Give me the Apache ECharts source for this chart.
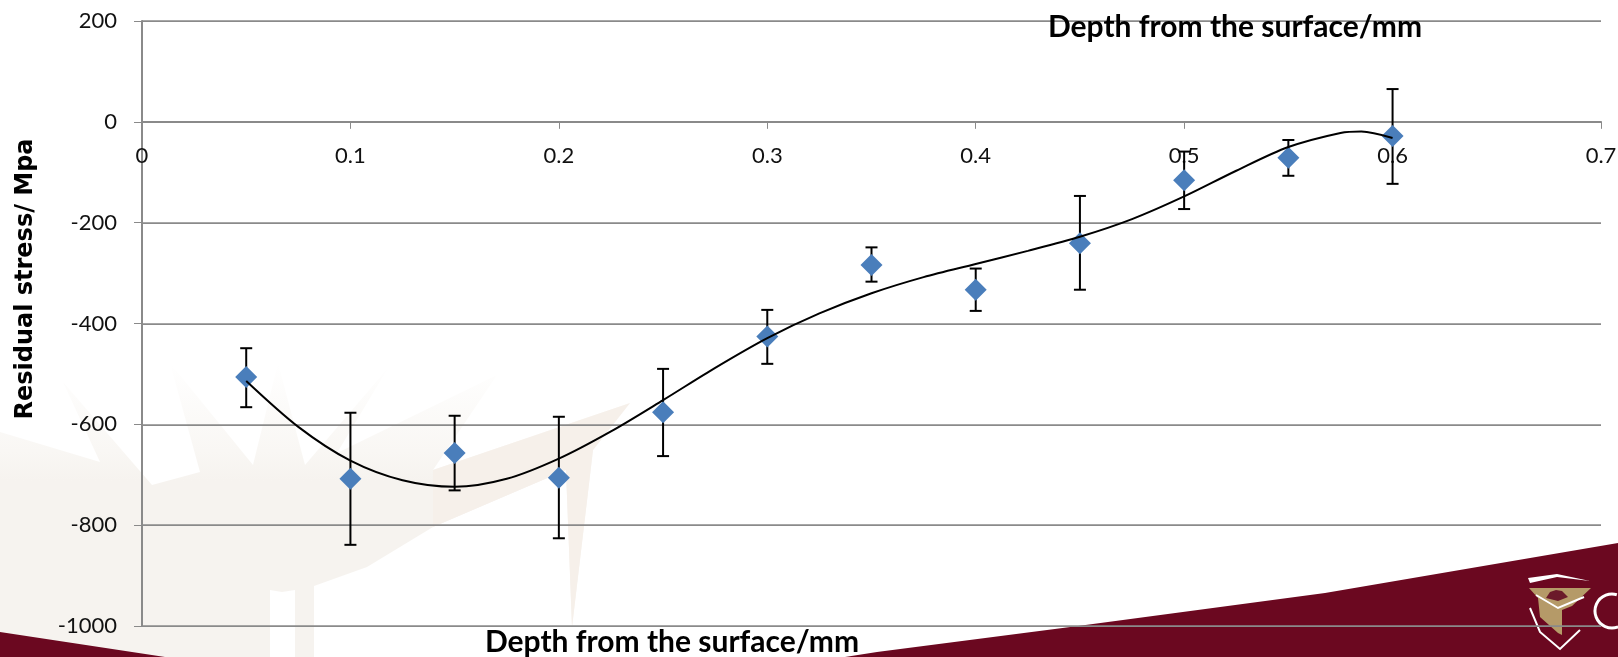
<!DOCTYPE html>
<html>
<head>
<meta charset="utf-8">
<style>html,body{margin:0;padding:0;background:#fff}#c{width:1618px;height:657px}</style>
<script src="https://cdn.jsdelivr.net/npm/echarts@6/dist/echarts.min.js"></script>
</head>
<body>
<div id="c"></div>
<script>
const depth = [0.05,0.1,0.15,0.2,0.25,0.3,0.35,0.4,0.45,0.5,0.55,0.6];
const stress = [-506,-708,-657,-706,-576,-426,-284,-333,-241,-116,-71,-28];
const errTop = [-449,-577,-583,-585,-490,-373,-249,-291,-147,-59,-36,65];
const errBottom = [-566,-839,-731,-826,-663,-480,-317,-375,-333,-173,-107,-123];
const trendDepth = [0.05,0.075,0.1,0.125,0.15,0.175,0.2,0.225,0.25,0.275,0.3,0.325,0.35,0.375,0.4,0.425,0.45,0.475,0.5,0.525,0.55,0.575,0.585,0.6];
const trendStress = [-514,-605,-672,-711,-724,-708,-668,-614,-552,-488,-429,-380,-340,-308,-282,-256,-228,-193,-148,-97,-50,-22,-19,-32];
const titleText = 'Depth from the surface/mm';
const yTitleText = 'Residual stress/ Mpa';

const axisGrey = '#8a8a8a';
const crimson = '#6b0820';
const gridTop = 21, gridBottom = 31, chartH = 657;
const xAxisOffset = -(chartH - gridTop - gridBottom) * 5 / 6;
const labelFont = {fontFamily:'Lato',fontSize:22,color:'#111'};
const watermark = [[0,432],[100,462],[63,382],[152,485],[200,472],[170,363],[253,465],[278,363],[305,465],[388,368],[337,453],[497,375],[433,470],[630,403],[593,450],[572,627],[566,470],[433,527],[367,567],[314,586],[314,657],[295,657],[295,590],[282,592],[270,590],[270,657],[0,657]];
const watermarkBand = [[433,470],[630,403],[593,450],[572,627],[566,470],[433,527]];
const wedgeLeft = [[0,632],[165,657],[0,657]];
const wedgeRight = [[845,657],[877,652],[1078,626],[1325,593],[1618,543],[1618,657]];

const chart = echarts.init(document.getElementById('c'));
chart.setOption({
  animation:false,
  backgroundColor:'#fff',
  grid:{left:142,right:17,top:gridTop,bottom:gridBottom,outerBoundsMode:'none',containLabel:false},
  title:[
    {text:titleText,left:1230,top:7,textAlign:'center',textStyle:{fontFamily:'Lato',fontWeight:'bold',fontSize:30,color:'#000'}},
    {text:titleText,left:667,top:622,textAlign:'center',textStyle:{fontFamily:'Lato',fontWeight:'bold',fontSize:30,color:'#000'}}
  ],
  xAxis:{type:'value',min:0,max:0.7,interval:0.1,position:'bottom',offset:xAxisOffset,
    axisLine:{show:true,onZero:false,lineStyle:{color:axisGrey,width:2}},
    axisTick:{show:true,inside:false,length:7,lineStyle:{color:axisGrey,width:1}},
    axisLabel:{...labelFont,margin:23,showMinLabel:true,showMaxLabel:true,hideOverlap:false},
    splitLine:{show:false}},
  yAxis:{type:'value',min:-1000,max:200,interval:200,
    axisLine:{show:true,lineStyle:{color:axisGrey,width:2}},
    axisTick:{show:true,length:8,lineStyle:{color:axisGrey,width:1}},
    axisLabel:{...labelFont,margin:25,formatter:v=>String(v)},
    splitLine:{show:true,lineStyle:{color:axisGrey,width:1.75}}},
  graphic:[
    {type:'polygon',z:-10,silent:true,shape:{points:watermark},style:{fill:new echarts.graphic.LinearGradient(0,0,0,1,[{offset:0,color:'#ffffff'},{offset:0.3,color:'#f9f7f4'},{offset:0.4,color:'#f6f3ef'},{offset:1,color:'#f6f3ef'}])}},
    {type:'polygon',z:-9.5,silent:true,shape:{points:watermarkBand},style:{fill:'#f6f0ea'}},
    {type:'polygon',z:-9,silent:true,shape:{points:wedgeLeft},style:{fill:crimson}},
    {type:'polygon',z:-9,silent:true,shape:{points:wedgeRight},style:{fill:crimson}},
    {type:'polygon',z:-8,silent:true,shape:{points:[[1528,578],[1557,574],[1590,581],[1557,577],[1530,583]]},style:{fill:'#fff'}},
    {type:'polygon',z:-8,silent:true,shape:{points:[[1529,588],[1591,588],[1572,606],[1562,610],[1562,635],[1558,633],[1540,617],[1538,598]]},style:{fill:'#b59a68'}},
    {type:'polygon',z:-8,silent:true,shape:{points:[[1546,598],[1550,592],[1556,590],[1562,591],[1568,597],[1558,601]]},style:{fill:'#6b1a2a'}},
    {type:'polyline',z:-7,silent:true,shape:{points:[[1536,595],[1558,608],[1584,597]]},style:{stroke:'#fff',lineWidth:2,fill:'none'}},
    {type:'polyline',z:-7,silent:true,shape:{points:[[1530,608],[1540,632],[1560,649],[1580,630]]},style:{stroke:'#fff',lineWidth:2,fill:'none'}},
    {type:'arc',z:-7,silent:true,shape:{cx:1612,cy:611,r:17,startAngle:1.2,endAngle:5.0,clockwise:true},style:{stroke:'#fff',lineWidth:3,fill:'none'}},
    {type:'text',z:10,silent:true,x:26,y:279,rotation:Math.PI/2,style:{text:yTitleText,font:'bold 24px "DejaVu Sans"',fill:'#000',textAlign:'center',textVerticalAlign:'middle'}}
  ],
  series:[
    {type:'custom',name:'Error',z:3,silent:true,clip:false,
      data:depth.map((d,i)=>[d,errBottom[i],errTop[i]]),
      encode:{x:0,y:[1,2]},
      renderItem:function(p,api){
        const t=api.coord([api.value(0),api.value(2)]);
        const b=api.coord([api.value(0),api.value(1)]);
        const s={stroke:'#000',lineWidth:2};
        const cap=6;
        return {type:'group',children:[
          {type:'line',shape:{x1:t[0],y1:t[1],x2:b[0],y2:b[1]},style:s},
          {type:'line',shape:{x1:t[0]-cap,y1:t[1],x2:t[0]+cap,y2:t[1]},style:s},
          {type:'line',shape:{x1:b[0]-cap,y1:b[1],x2:b[0]+cap,y2:b[1]},style:s}
        ]};
      }},
    {type:'scatter',name:'Stress',z:4,symbol:'diamond',symbolSize:22,
      itemStyle:{color:'#4a7ebb',opacity:1},
      data:depth.map((d,i)=>[d,stress[i]])},
    {type:'line',name:'Trend',z:5,smooth:0.3,showSymbol:false,symbol:'none',
      lineStyle:{color:'#000',width:2},
      data:trendDepth.map((d,i)=>[d,trendStress[i]])}
  ]
});
</script>
</body>
</html>
